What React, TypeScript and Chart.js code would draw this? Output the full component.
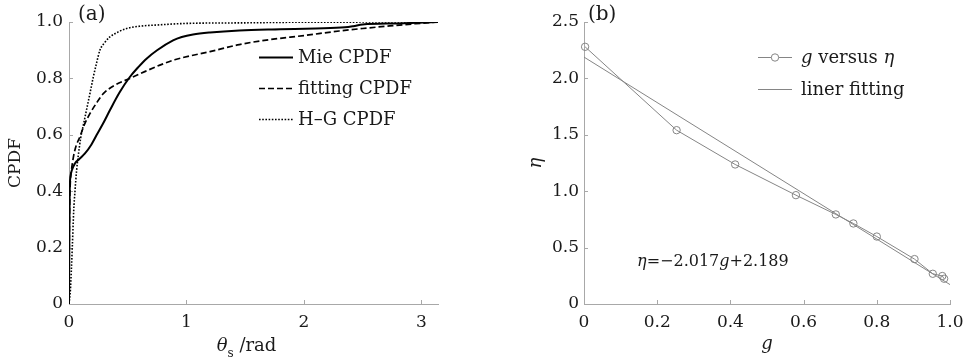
import React, { useEffect, useRef } from "react";
import { Chart, registerables } from "chart.js";

Chart.register(...registerables);

// ---------- Panel (a) data ----------
const thetaMie = [0, 0.003, 0.006, 0.012, 0.025, 0.05, 0.09, 0.136, 0.19, 0.235, 0.29, 0.348, 0.43, 0.518, 0.59, 0.66, 0.75, 0.886, 0.96, 1.056, 1.2, 1.45, 1.8, 2.1, 2.35, 2.42, 2.5, 2.8, 3.1416];
const cpdfMie = [0, 0.25, 0.4, 0.45, 0.475, 0.498, 0.515, 0.534, 0.565, 0.599, 0.64, 0.687, 0.75, 0.805, 0.84, 0.87, 0.9, 0.935, 0.947, 0.956, 0.963, 0.97, 0.974, 0.977, 0.981, 0.985, 0.991, 0.995, 1.0];

const thetaFit = [0, 0.004, 0.01, 0.02, 0.037, 0.06, 0.093, 0.13, 0.178, 0.23, 0.292, 0.4, 0.518, 0.65, 0.773, 0.9, 1.056, 1.2, 1.45, 1.7, 2.0, 2.3, 2.5, 2.73, 2.95, 3.1416];
const cpdfFit = [0, 0.3, 0.42, 0.47, 0.52, 0.56, 0.593, 0.635, 0.675, 0.71, 0.746, 0.778, 0.8, 0.825, 0.847, 0.866, 0.882, 0.895, 0.92, 0.937, 0.952, 0.968, 0.977, 0.986, 0.994, 1.0];

const thetaHG = [0, 0.012, 0.02, 0.028, 0.04, 0.051, 0.065, 0.08, 0.1, 0.125, 0.15, 0.18, 0.207, 0.235, 0.263, 0.3, 0.348, 0.42, 0.49, 0.6, 0.773, 1.0, 1.5, 1.9, 3.1416];
const cpdfHG = [0, 0.05, 0.12, 0.2, 0.33, 0.4, 0.475, 0.53, 0.59, 0.64, 0.69, 0.75, 0.805, 0.855, 0.9, 0.925, 0.947, 0.965, 0.977, 0.985, 0.99, 0.995, 0.997, 0.999, 1.0];

const xTicksA = ["0", "1", "2", "3"];
const yTicksA = ["0", "0.2", "0.4", "0.6", "0.8", "1.0"];
const legendA = ["Mie CPDF", "fitting CPDF", "H\u2013G CPDF"];

// ---------- Panel (b) data ----------
const gVals = [0.003, 0.253, 0.413, 0.579, 0.688, 0.736, 0.8, 0.903, 0.953, 0.979, 0.984];
const etaVals = [2.28, 1.541, 1.237, 0.965, 0.794, 0.714, 0.598, 0.398, 0.268, 0.248, 0.224];
const fitG = [0, 1.0];
const fitEta = [2.189, 0.172];

const xTicksB = ["0", "0.2", "0.4", "0.6", "0.8", "1.0"];
const yTicksB = ["0", "0.5", "1.0", "1.5", "2.0", "2.5"];

const FONT = "'DejaVu Serif', 'Liberation Serif', serif";
const TEXT = "#1a1a1a";
const AXIS = "#a8a8a8";
const GRAYLINE = "#858585";

const toXY = (xs: number[], ys: number[]) => xs.map((x, i) => ({ x, y: ys[i] }));

const inwardTicks = {
  id: "inwardTicks",
  beforeDatasetsDraw(chart: any) {
    const { ctx, chartArea, scales } = chart;
    ctx.save();
    ctx.strokeStyle = AXIS;
    ctx.lineWidth = 1;
    scales.x.ticks.forEach((t: any) => {
      const px = Math.round(scales.x.getPixelForValue(t.value)) + 0.5;
      ctx.beginPath();
      ctx.moveTo(px, chartArea.bottom);
      ctx.lineTo(px, chartArea.bottom - 4);
      ctx.stroke();
    });
    scales.y.ticks.forEach((t: any) => {
      const py = Math.round(scales.y.getPixelForValue(t.value)) + 0.5;
      ctx.beginPath();
      ctx.moveTo(chartArea.left, py);
      ctx.lineTo(chartArea.left + 4, py);
      ctx.stroke();
    });
    ctx.restore();
  },
};

type Seg = { t: string; italic?: boolean; size?: number; dy?: number };
function drawSegs(ctx: CanvasRenderingContext2D, segs: Seg[], x: number, y: number, base: number) {
  let cx = x;
  segs.forEach((s) => {
    ctx.font = `${s.italic ? "italic " : ""}${s.size || base}px ${FONT}`;
    ctx.fillText(s.t, cx, y + (s.dy || 0));
    cx += ctx.measureText(s.t).width;
  });
  return cx - x;
}
function measureSegs(ctx: CanvasRenderingContext2D, segs: Seg[], base: number) {
  let w = 0;
  segs.forEach((s) => {
    ctx.font = `${s.italic ? "italic " : ""}${s.size || base}px ${FONT}`;
    w += ctx.measureText(s.t).width;
  });
  return w;
}

const decorA = {
  id: "decorA",
  afterDraw(chart: any) {
    const { ctx, chartArea } = chart;
    ctx.save();
    ctx.fillStyle = TEXT;
    ctx.textBaseline = "middle";
    // panel label
    ctx.font = `20px ${FONT}`;
    ctx.textAlign = "left";
    ctx.fillText("(a)", 78, 15);
    // legend
    const rows = [57, 88, 119];
    chart.data.datasets.forEach((ds: any, i: number) => {
      const y = rows[i] + 0.5;
      ctx.save();
      ctx.strokeStyle = ds.borderColor;
      ctx.lineWidth = ds.borderWidth;
      ctx.setLineDash(ds.borderDash || []);
      ctx.beginPath();
      ctx.moveTo(259, y);
      ctx.lineTo(293, y);
      ctx.stroke();
      ctx.restore();
      ctx.font = `18px ${FONT}`;
      ctx.fillText(ds.label, 298, rows[i] + 1);
    });
    // x title: theta_s /rad
    ctx.textBaseline = "alphabetic";
    const segs: Seg[] = [
      { t: "\u03B8", italic: true },
      { t: "s", size: 12, dy: 6 },
      { t: " /rad" },
    ];
    const w = measureSegs(ctx, segs, 18);
    const cxm = (chartArea.left + chartArea.right) / 2 - 7;
    drawSegs(ctx, segs, cxm - w / 2, 351, 18);
    ctx.restore();
  },
};

const decorB = {
  id: "decorB",
  afterDraw(chart: any) {
    const { ctx, scales } = chart;
    ctx.save();
    ctx.fillStyle = TEXT;
    ctx.textBaseline = "middle";
    ctx.font = `20px ${FONT}`;
    ctx.textAlign = "left";
    ctx.fillText("(b)", 99, 15);
    // legend
    const rows = [57, 89];
    const labels: Seg[][] = [
      [{ t: "g", italic: true }, { t: " versus " }, { t: "\u03B7", italic: true }],
      [{ t: "liner fitting" }],
    ];
    chart.data.datasets.forEach((ds: any, i: number) => {
      const y = rows[i] + 0.5;
      ctx.save();
      ctx.strokeStyle = ds.borderColor;
      ctx.lineWidth = ds.borderWidth;
      ctx.beginPath();
      ctx.moveTo(269, y);
      ctx.lineTo(303, y);
      ctx.stroke();
      if (ds.pointRadius > 0) {
        ctx.fillStyle = "#ffffff";
        ctx.beginPath();
        ctx.arc(286, y, ds.pointRadius, 0, Math.PI * 2);
        ctx.fill();
        ctx.stroke();
      }
      ctx.restore();
      drawSegs(ctx, labels[i], 312, rows[i] + 1, 18);
    });
    // equation annotation
    const eq: Seg[] = [
      { t: "\u03B7", italic: true },
      { t: "=\u22122.017" },
      { t: "g", italic: true },
      { t: "+2.189" },
    ];
    const ex = scales.x.getPixelForValue(0.145);
    const ey = scales.y.getPixelForValue(0.372);
    drawSegs(ctx, eq, ex, ey, 16);
    ctx.restore();
  },
};

function tickFont() {
  return { family: FONT, size: 17 };
}

function ChartA() {
  const ref = useRef<HTMLCanvasElement>(null);
  useEffect(() => {
    const chart = new Chart(ref.current as HTMLCanvasElement, {
      type: "line",
      data: {
        datasets: [
          {
            label: legendA[0],
            data: toXY(thetaMie, cpdfMie),
            borderColor: "#000000",
            borderWidth: 2,
            pointRadius: 0,
            cubicInterpolationMode: "monotone",
          },
          {
            label: legendA[1],
            data: toXY(thetaFit, cpdfFit),
            borderColor: "#000000",
            borderWidth: 1.7,
            borderDash: [6, 3],
            pointRadius: 0,
            cubicInterpolationMode: "monotone",
          },
          {
            label: legendA[2],
            data: toXY(thetaHG, cpdfHG),
            borderColor: "#000000",
            borderWidth: 1.6,
            borderDash: [1.6, 1.6],
            pointRadius: 0,
            cubicInterpolationMode: "monotone",
          },
        ],
      },
      options: {
        animation: false,
        responsive: false,
        layout: { padding: { top: 22, right: 51, left: 0, bottom: 0 } },
        plugins: { legend: { display: false }, tooltip: { enabled: false } },
        scales: {
          x: {
            type: "linear",
            min: 0,
            max: 3.1416,
            grid: { display: false, drawTicks: false },
            border: { display: true, color: AXIS, width: 1 },
            ticks: {
              stepSize: 1,
              includeBounds: false,
              font: tickFont(),
              color: TEXT,
              padding: 8,
              callback: (_v: any, i: number) => xTicksA[i],
            },
            afterFit: (s: any) => {
              s.height = 55;
            },
          },
          y: {
            type: "linear",
            min: 0,
            max: 1.0,
            grid: { display: false, drawTicks: false },
            border: { display: true, color: AXIS, width: 1 },
            ticks: {
              stepSize: 0.2,
              font: tickFont(),
              color: TEXT,
              padding: 6,
              callback: (_v: any, i: number) => yTicksA[i],
            },
            title: {
              display: true,
              text: "CPDF",
              font: { family: FONT, size: 17 },
              color: TEXT,
              padding: { top: 5, bottom: 0 },
            },
            afterFit: (s: any) => {
              s.width = 69;
            },
          },
        },
      } as any,
      plugins: [inwardTicks, decorA],
    });
    return () => chart.destroy();
  }, []);
  return <canvas ref={ref} width={489} height={359} style={{ position: "absolute", left: 0, top: 0 }} />;
}

function ChartB() {
  const ref = useRef<HTMLCanvasElement>(null);
  useEffect(() => {
    const chart = new Chart(ref.current as HTMLCanvasElement, {
      type: "line",
      data: {
        datasets: [
          {
            label: "g versus \u03B7",
            data: toXY(gVals, etaVals),
            borderColor: GRAYLINE,
            borderWidth: 1,
            pointRadius: 3.7,
            pointStyle: "circle",
            pointBackgroundColor: "rgba(255,255,255,0)",
            pointBorderColor: GRAYLINE,
            pointBorderWidth: 1,
            clip: false,
          },
          {
            label: "liner fitting",
            data: toXY(fitG, fitEta),
            borderColor: GRAYLINE,
            borderWidth: 1,
            pointRadius: 0,
          },
        ],
      },
      options: {
        animation: false,
        responsive: false,
        layout: { padding: { top: 22, right: 28, left: 33, bottom: 0 } },
        plugins: { legend: { display: false }, tooltip: { enabled: false } },
        scales: {
          x: {
            type: "linear",
            min: 0,
            max: 1.0,
            grid: { display: false, drawTicks: false },
            border: { display: true, color: AXIS, width: 1 },
            ticks: {
              stepSize: 0.2,
              font: tickFont(),
              color: TEXT,
              padding: 8,
              callback: (_v: any, i: number) => xTicksB[i],
            },
            title: {
              display: true,
              text: "g",
              font: { family: FONT, size: 18, style: "italic" },
              color: TEXT,
              padding: { top: 0, bottom: 4 },
            },
            afterFit: (s: any) => {
              s.height = 55;
            },
          },
          y: {
            type: "linear",
            min: 0,
            max: 2.5,
            grid: { display: false, drawTicks: false },
            border: { display: true, color: AXIS, width: 1 },
            ticks: {
              stepSize: 0.5,
              font: tickFont(),
              color: TEXT,
              padding: 5,
              callback: (_v: any, i: number) => yTicksB[i],
            },
            title: {
              display: true,
              text: "\u03B7",
              font: { family: FONT, size: 18, style: "italic" },
              color: TEXT,
              padding: { top: 4, bottom: 0 },
            },
            afterFit: (s: any) => {
              s.width = 62;
            },
          },
        },
      } as any,
      plugins: [inwardTicks, decorB],
    });
    return () => chart.destroy();
  }, []);
  return <canvas ref={ref} width={489} height={359} style={{ position: "absolute", left: 489, top: 0 }} />;
}

export default function App() {
  return (
    <div style={{ position: "absolute", left: 0, top: 0, width: 978, height: 359, background: "#ffffff" }}>
      <ChartA />
      <ChartB />
    </div>
  );
}
